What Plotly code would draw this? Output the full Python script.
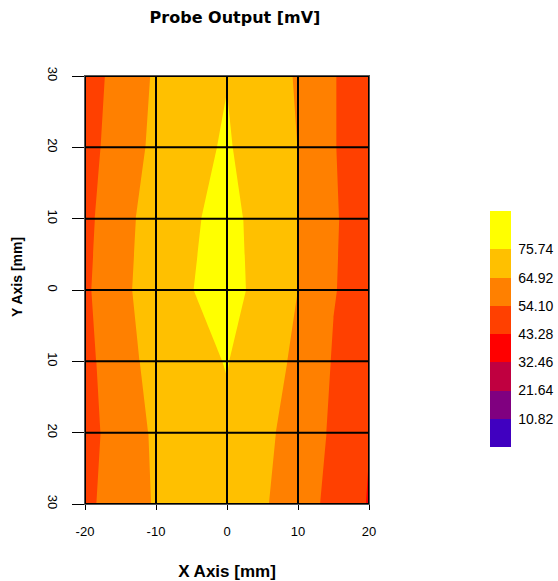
import plotly.graph_objects as go

# grid coordinates (mm)
x_vals = [-20, -15, -10, -5, 0, 5, 10, 15, 20]
y_vals = [-30, -20, -10, 0, 10, 20, 30]

# probe output [mV], one row per y value (bottom to top)
row_m30 = [51.0, 60.7, 65.6, 69.0, 71.5, 66.0, 60.0, 50.5, 42.6]
row_m20 = [49.0, 60.6, 66.1, 70.0, 73.7, 67.0, 61.5, 52.3, 43.6]
row_m10 = [51.0, 60.7, 68.5, 72.0, 76.3, 67.8, 63.7, 53.3, 48.0]
row_0 = [52.0, 63.7, 67.4, 75.5, 79.5, 72.5, 64.9, 54.6, 49.6]
row_p10 = [51.0, 62.1, 68.6, 74.0, 80.2, 70.5, 64.9, 55.0, 49.4]
row_p20 = [48.0, 61.9, 66.2, 71.0, 77.6, 66.1, 64.9, 54.5, 49.5]
row_p30 = [48.0, 58.9, 66.1, 71.0, 75.2, 70.0, 64.0, 54.5, 49.5]
z_rows = [row_m30, row_m20, row_m10, row_0, row_p10, row_p20, row_p30]

levels = [10.82, 21.64, 32.46, 43.28, 54.10, 64.92, 75.74]
level_labels = ["10.82", "21.64", "32.46", "43.28", "54.10", "64.92", "75.74"]
band_colors = ["#4000C0", "#800080", "#C00040", "#FF0000",
               "#FF4000", "#FF8000", "#FFC000", "#FFFF00"]
scale_min, scale_max = 0.0, 90.5

x_ticks = [-20, -10, 0, 10, 20]
x_ticktext = ["-20", "-10", "0", "10", "20"]
y_ticks = [-30, -20, -10, 0, 10, 20, 30]
y_ticktext = ["30", "20", "10", "0", "10", "20", "30"]

n = len(band_colors)
colorscale = [[i / (n - 1), c] for i, c in enumerate(band_colors)]

fig = go.Figure()
fig.add_trace(go.Contour(
    x=x_vals, y=y_vals, z=z_rows,
    zmin=scale_min, zmax=scale_max,
    colorscale=colorscale,
    contours=dict(start=levels[0], end=levels[-1], size=levels[1] - levels[0],
                  coloring="fill", showlines=False),
    line=dict(width=0, smoothing=0),
    colorbar=dict(
        tickvals=levels, ticktext=level_labels,
        x=(490 - 85) / 284, xanchor="left", xpad=0,
        y=(504 - 329) / 428, yanchor="middle", ypad=0,
        len=236, lenmode="pixels", thickness=21,
        outlinewidth=0, ticks="outside", ticklen=5, tickcolor="rgba(0,0,0,0)",
        tickfont=dict(family="Liberation Sans", size=14, color="#000"),
    ),
    hoverinfo="skip",
))

# grid lines drawn above the filled contours
shapes = []
for xv in x_ticks:
    shapes.append(dict(type="line", xref="x", yref="paper", x0=xv, x1=xv, y0=0, y1=1,
                       line=dict(color="#000", width=2), layer="above"))
for yv in y_ticks:
    shapes.append(dict(type="line", xref="paper", yref="y", x0=0, x1=1, y0=yv, y1=yv,
                       line=dict(color="#000", width=2), layer="above"))

fig.update_layout(
    width=558, height=581,
    margin=dict(l=85, r=189, t=76, b=77, autoexpand=False),
    paper_bgcolor="white", plot_bgcolor="white",
    title=dict(text="<b>Probe Output [mV]</b>", x=235 / 558, xanchor="center",
               y=1 - 17 / 581, yanchor="middle",
               font=dict(family="DejaVu Sans", size=16, color="#000")),
    shapes=shapes,
    annotations=[dict(text="<b>Y Axis [mm]</b>", textangle=-90, showarrow=False,
                      xref="paper", yref="paper",
                      x=(17 - 85) / 284, y=(504 - 277) / 428,
                      xanchor="center", yanchor="middle",
                      font=dict(family="Liberation Sans", size=14, color="#000"))],
    xaxis=dict(range=[-20, 20], tickvals=x_ticks, ticktext=x_ticktext,
               showgrid=False, zeroline=False, showline=True, linecolor="#555", linewidth=1,
               mirror=True, ticks="outside", ticklen=5, tickcolor="#000",
               ticklabelstandoff=10, automargin=False,
               tickfont=dict(family="Liberation Sans", size=13, color="#000"),
               title=dict(text="<b>X Axis [mm]</b>", standoff=27,
                          font=dict(family="Liberation Sans", size=17, color="#000"))),
    yaxis=dict(range=[-30, 30], tickvals=y_ticks, ticktext=y_ticktext,
               showgrid=False, zeroline=False, showline=True, linecolor="#555", linewidth=1,
               mirror=True, ticks="outside", ticklen=12, tickcolor="#000", tickangle=90,
               ticklabelstandoff=8, automargin=False,
               tickfont=dict(family="Liberation Sans", size=13, color="#000")),
)

fig.write_html("out.html", config={"displayModeBar": False},
               post_script="document.body.style.margin='0';")
